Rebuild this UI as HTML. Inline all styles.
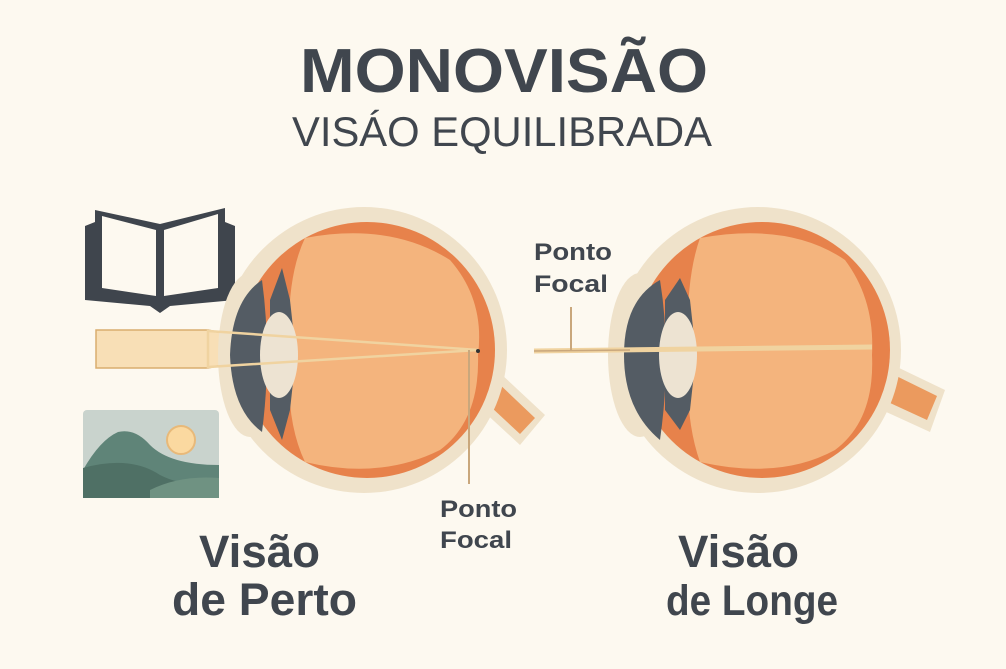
<!DOCTYPE html>
<html><head><meta charset="utf-8"><style>
html,body{margin:0;padding:0;background:#fdf9f0;}
svg{display:block}
text{font-family:"Liberation Sans",sans-serif;fill:#40464e;}
</style></head><body>
<svg width="1006" height="669" viewBox="0 0 1006 669" xmlns="http://www.w3.org/2000/svg">
<rect width="1006" height="669" fill="#fdf9f0"/>
<text x="300" y="92" font-size="62" font-weight="bold" textLength="408" lengthAdjust="spacingAndGlyphs">MONOVISÃO</text>
<text x="292" y="146" font-size="42" textLength="420" lengthAdjust="spacingAndGlyphs">VISÁO EQUILIBRADA</text>

<!-- book -->
<path d="M85 226 L95 222 L95 210 L160 224 L225 208 L225 222 L235 226 L235 300 L170 306 L160 313 L150 306 L85 300 Z" fill="#3f454d"/>
<path d="M102 216 L156 230 L156 296 L102 288 Z" fill="#fdf9f0"/>
<path d="M164 230 L218 214 L218 288 L164 296 Z" fill="#fdf9f0"/>

<!-- beam left -->
<path d="M96 330 L208 330 L232 335 L232 363 L208 368 L96 368 Z" fill="#f8dfb6" stroke="#d9ad6f" stroke-width="1.5"/>

<!-- landscape -->
<rect x="83" y="410" width="136" height="88" rx="4" fill="#c9d3cd"/>
<circle cx="181" cy="440" r="14" fill="#fbd9a0" stroke="#e8b979" stroke-width="2"/>
<path d="M83 470 Q100 440 118 432 Q135 428 150 445 Q170 465 219 465 L219 498 L83 498 Z" fill="#5f8478"/>
<path d="M83 468 Q130 455 160 475 Q185 488 219 482 L219 498 L83 498 Z" fill="#4f7065"/>
<path d="M150 490 Q180 475 219 478 L219 498 L150 498 Z" fill="#6f9282"/>

<!-- left eye -->
<g>
<path d="M470 345 L545 415 L520 445 L455 385 Z" fill="#efe2ca"/>
<path d="M474 360 L535 418 L520 434 L462 380 Z" fill="#eb9a5e"/>
<circle cx="364" cy="350" r="143" fill="#efe2ca"/>
<ellipse cx="250" cy="355" rx="32" ry="82" fill="#efe2ca"/>
<circle cx="367" cy="350" r="128" fill="#e7824b"/>
<path d="M305 238 Q390 222 450 260 Q485 300 478 355 Q480 420 440 450 Q380 480 305 462 Q285 420 290 355 Q285 280 305 238 Z" fill="#f4b47d"/>
<path d="M262 280 Q232 300 230 355 Q232 410 262 432 Q272 355 262 280 Z" fill="#545c64"/>
<path d="M270 300 L282 268 L290 300 L296 355 L290 410 L282 440 L270 410 Z" fill="#545c64"/>
<ellipse cx="279" cy="355" rx="19" ry="43" fill="#ede3d2"/>
<path d="M208 331 L478 350 L208 367 Z" fill="none" stroke="#f0d3a0" stroke-width="2.5"/>
<line x1="469" y1="350" x2="469" y2="484" stroke="#c9a77c" stroke-width="2"/>
<circle cx="478" cy="351" r="2" fill="#333"/>
</g>

<!-- right eye -->
<g>
<path d="M872 355 L945 390 L930 432 L860 400 Z" fill="#efe2ca"/>
<path d="M876 366 L937 396 L927 420 L866 392 Z" fill="#eb9a5e"/>
<circle cx="758" cy="350" r="143" fill="#efe2ca"/>
<ellipse cx="640" cy="355" rx="32" ry="82" fill="#efe2ca"/>
<circle cx="762" cy="350" r="128" fill="#e7824b"/>
<path d="M700 238 Q790 222 845 260 Q875 300 872 355 Q875 420 835 450 Q780 480 700 462 Q685 420 688 355 Q685 280 700 238 Z" fill="#f4b47d"/>
<path d="M660 280 Q624 300 624 355 Q624 410 660 440 Q672 355 660 280 Z" fill="#545c64"/>
<path d="M665 300 L680 278 L690 300 L696 355 L690 410 L680 430 L665 410 Z" fill="#545c64"/>
<ellipse cx="678" cy="355" rx="19" ry="43" fill="#ede3d2"/>
<line x1="534" y1="351" x2="872" y2="347" stroke="#f0d3a0" stroke-width="5"/>
<line x1="534" y1="351" x2="630" y2="350" stroke="#c9a77c" stroke-width="1.5"/>
<line x1="571" y1="307" x2="571" y2="350" stroke="#c9a77c" stroke-width="2"/>
</g>

<text x="534" y="260" font-size="24" font-weight="bold" textLength="78" lengthAdjust="spacingAndGlyphs">Ponto</text>
<text x="534" y="292" font-size="24" font-weight="bold" textLength="74" lengthAdjust="spacingAndGlyphs">Focal</text>
<text x="440" y="517" font-size="24" font-weight="bold" textLength="77" lengthAdjust="spacingAndGlyphs">Ponto</text>
<text x="440" y="548" font-size="24" font-weight="bold" textLength="72" lengthAdjust="spacingAndGlyphs">Focal</text>

<text x="199" y="567" font-size="45" font-weight="bold" textLength="121" lengthAdjust="spacingAndGlyphs">Visão</text>
<text x="172" y="615" font-size="45" font-weight="bold" textLength="185" lengthAdjust="spacingAndGlyphs">de Perto</text>
<text x="678" y="567" font-size="45" font-weight="bold" textLength="121" lengthAdjust="spacingAndGlyphs">Visão</text>
<text x="666" y="615" font-size="43" font-weight="bold" textLength="172" lengthAdjust="spacingAndGlyphs">de Longe</text>
</svg>
</body></html>
